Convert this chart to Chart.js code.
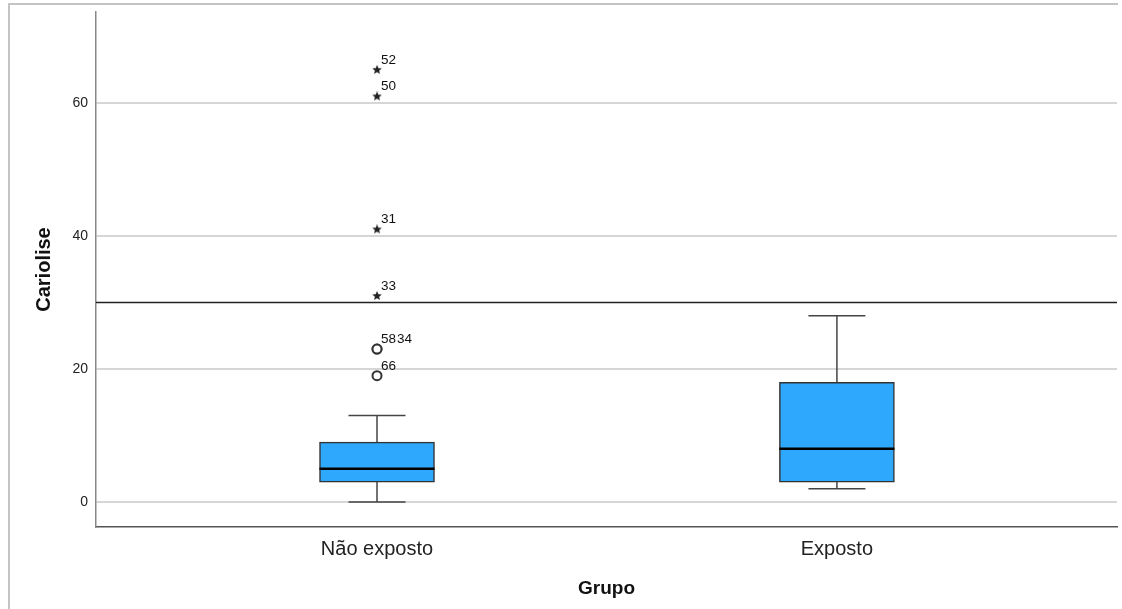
<!DOCTYPE html>
<html>
<head>
<meta charset="utf-8">
<title>Cariolise por grupo</title>
<script src="https://cdn.jsdelivr.net/npm/chart.js@4.4.1/dist/chart.umd.min.js"></script>
<style>
  html, body { margin: 0; padding: 0; background: #fff; overflow: hidden; }
  #wrap { position: relative; width: 1122px; height: 609px; }
  #frame {
    position: absolute; left: 8px; top: 3px; width: 1108px; height: 640px;
    border-top: 2px solid #c4c4c4; border-left: 2px solid #c4c4c4;
    pointer-events: none;
  }
</style>
</head>
<body>
<div id="wrap">
  <canvas id="boxChart" width="1122" height="609"></canvas>
  <div id="frame"></div>
</div>
<script>
const groups = ["Não exposto", "Exposto"];
const whiskerLow = [0, 2];
const q1 = [3, 3];
const median = [5, 8];
const q3 = [9, 18];
const whiskerHigh = [13, 28];

// outliers (circles) and extremes (stars) with their case numbers
const outlierGroup = [0, 0, 0];
const outlierValues = [23, 23, 19];
const outlierCases = ["58", "34", "66"];
const extremeGroup = [0, 0, 0, 0];
const extremeValues = [31, 41, 61, 65];
const extremeCases = ["33", "31", "50", "52"];

const yTicks = [0, 20, 40, 60];
const refLine = 30;

const FONT = "'Liberation Sans', Arial, sans-serif";
const BOX_W = 115;
const CAP_W = 57;

function makeStar(size, color) {
  const c = document.createElement("canvas");
  c.width = size;
  c.height = size;
  const g = c.getContext("2d");
  const cx = size / 2, cy = size / 2, R = size / 2, r = R * 0.45;
  g.beginPath();
  for (let i = 0; i < 10; i++) {
    const rad = i % 2 === 0 ? R : r;
    const a = -Math.PI / 2 + i * Math.PI / 5;
    g.lineTo(cx + rad * Math.cos(a), cy + rad * Math.sin(a));
  }
  g.closePath();
  g.fillStyle = color;
  g.fill();
  return c;
}
const starImg = makeStar(10, "#222");

function line(ctx, x1, y1, x2, y2) {
  ctx.beginPath();
  ctx.moveTo(x1, y1);
  ctx.lineTo(x2, y2);
  ctx.stroke();
}

// whiskers, medians, the reference line and the case labels
const boxExtras = {
  id: "boxExtras",
  beforeDatasetsDraw(chart) {
    const { ctx, chartArea, scales: { y } } = chart;
    const py = y.getPixelForValue(refLine);
    ctx.save();
    ctx.strokeStyle = "#222";
    ctx.lineWidth = 1.5;
    line(ctx, chartArea.left, py, chartArea.right, py);
    ctx.restore();
  },
  afterDatasetsDraw(chart) {
    const { ctx, scales: { x, y } } = chart;
    ctx.save();
    groups.forEach((g, i) => {
      const px = x.getPixelForValue(i);
      ctx.strokeStyle = "#444";
      ctx.lineWidth = 1.5;
      line(ctx, px, y.getPixelForValue(q3[i]), px, y.getPixelForValue(whiskerHigh[i]));
      line(ctx, px, y.getPixelForValue(q1[i]), px, y.getPixelForValue(whiskerLow[i]));
      const hi = y.getPixelForValue(whiskerHigh[i]);
      const lo = y.getPixelForValue(whiskerLow[i]);
      line(ctx, px - CAP_W / 2, hi, px + CAP_W / 2, hi);
      line(ctx, px - CAP_W / 2, lo, px + CAP_W / 2, lo);
      ctx.strokeStyle = "#000";
      ctx.lineWidth = 2.5;
      const my = y.getPixelForValue(median[i]);
      line(ctx, px - BOX_W / 2, my, px + BOX_W / 2, my);
    });

    ctx.font = "13.5px " + FONT;
    ctx.fillStyle = "#111";
    ctx.textBaseline = "alphabetic";
    const used = {};
    const labelAt = (g, v, id) => {
      const px = x.getPixelForValue(g);
      const py = y.getPixelForValue(v);
      const key = g + ":" + v;
      const shift = used[key] || 0;
      ctx.fillText(id, px + 4 + shift, py - 6);
      used[key] = shift + ctx.measureText(id).width + 1;
    };
    outlierCases.forEach((id, i) => labelAt(outlierGroup[i], outlierValues[i], id));
    extremeCases.forEach((id, i) => labelAt(extremeGroup[i], extremeValues[i], id));
    ctx.restore();
  }
};

const chart = new Chart(document.getElementById("boxChart"), {
  type: "bar",
  data: {
    datasets: [
      {
        type: "bar",
        data: groups.map((g, i) => ({ x: i, y: [q1[i], q3[i]] })),
        backgroundColor: "#2ea8fc",
        borderColor: "#333",
        borderWidth: 1.5,
        borderSkipped: false,
        barThickness: BOX_W
      },
      {
        type: "scatter",
        data: outlierGroup.map((g, i) => ({ x: g, y: outlierValues[i] })),
        pointStyle: "circle",
        pointRadius: 4.5,
        borderWidth: 2,
        borderColor: "#333",
        backgroundColor: "#fff"
      },
      {
        type: "scatter",
        data: extremeGroup.map((g, i) => ({ x: g, y: extremeValues[i] })),
        pointStyle: starImg,
        pointRadius: 5
      }
    ]
  },
  options: {
    responsive: false,
    animation: false,
    layout: { autoPadding: false, padding: { left: 0, top: 12, right: 5, bottom: 0 } },
    plugins: { legend: { display: false }, tooltip: { enabled: false } },
    scales: {
      x: {
        type: "linear",
        min: -0.611,
        max: 1.609,
        offset: false,
        grid: { display: false, drawTicks: false, offset: false },
        border: { display: true, color: "#555", width: 1.5 },
        afterBuildTicks: s => { s.ticks = groups.map((g, i) => ({ value: i })); },
        ticks: {
          callback: v => groups[v],
          font: { family: FONT, size: 20 },
          color: "#222",
          padding: 10,
          maxRotation: 0
        },
        title: {
          display: true,
          text: "Grupo",
          font: { family: FONT, size: 19, weight: "bold" },
          color: "#111",
          padding: { top: 0, bottom: 9 }
        },
        afterFit: s => { s.height = 82; }
      },
      y: {
        min: -3.76,
        max: 73.7,
        afterBuildTicks: s => { s.ticks = yTicks.map(v => ({ value: v })); },
        grid: { color: "#d6d6d6", lineWidth: 2, drawTicks: false },
        border: { color: "#888", width: 1.5 },
        ticks: { font: { family: FONT, size: 14 }, color: "#222", padding: 8 },
        title: {
          display: true,
          text: "Cariolise",
          font: { family: FONT, size: 20, weight: "bold" },
          color: "#111",
          padding: { top: 32, bottom: 0 }
        },
        afterFit: s => {
          s.width = 96;
          // let the layout padding alone decide the top of the plot
          s.paddingTop = 0;
          s.paddingBottom = 0;
        }
      }
    }
  },
  plugins: [boxExtras]
});
</script>
</body>
</html>
